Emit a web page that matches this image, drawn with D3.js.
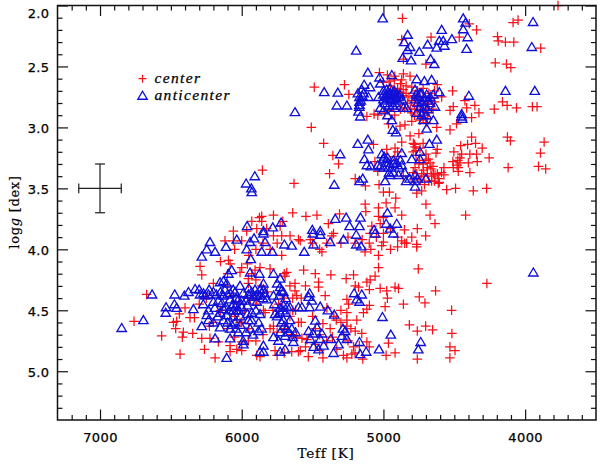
<!DOCTYPE html>
<html><head><meta charset="utf-8">
<script src="https://cdn.jsdelivr.net/npm/d3@7/dist/d3.min.js"></script>
<style>html,body{margin:0;padding:0;background:#fff}svg{display:block}</style>
</head><body><svg id="c" width="600" height="465"></svg>
<script>
const teffMajor=[7000,6000,5000,4000];
const teffMinor=[7200,7100,6900,6800,6700,6600,6500,6400,6300,6200,6100,5900,5800,5700,5600,5500,5400,5300,5200,5100,4900,4800,4700,4600,4500,4400,4300,4200,4100,3900,3800,3700,3600];
const loggMajor=[2.0,2.5,3.0,3.5,4.0,4.5,5.0];
const loggMinor=[2.1,2.2,2.3,2.4,2.6,2.7,2.8,2.9,3.1,3.2,3.3,3.4,3.6,3.7,3.8,3.9,4.1,4.2,4.3,4.4,4.6,4.7,4.8,4.9,5.1,5.2,5.3];
const legendLabels=["center","anticenter"];
const errorBar={teff:7000,logg:3.5,dTeff:150,dLogg:0.2};

const centerStars=[
[4866,2.105],[3768,2.0],[4085,2.14],[4050,2.12],[4394,2.15],[4343,2.2],[4664,2.26],[4465,2.26],[4871,2.28],[4195,2.255],[4190,2.29],[4139,2.30],[4080,2.30],[3890,2.35],
[4211,2.47],[4132,2.48],[4101,2.51],[4859,2.44],[4700,2.48],[5028,2.55],[4972,2.57],[4859,2.56],[4812,2.58],[4923,2.61],[4871,2.61],
[5488,2.67],[5275,2.65],[5244,2.73],[4512,2.70],[4620,2.65],[4589,2.75],[4425,2.78],[4355,2.82],[4326,2.88],[4413,2.84],[4507,2.83],[4530,2.86],[4378,2.92],[4218,2.85],[4160,2.79],[4127,2.82],[4061,2.84],[3949,2.83],[3916,2.83],
[4484,2.97],[4530,3.02],[4624,3.0],[5509,3.0],[5117,2.91],[5066,2.89],[4965,2.97],[4883,2.99],[4848,2.98],[4800,2.95],[4742,2.94],
[4950,2.66],[4920,2.70],[4900,2.68],[4880,2.71],[4860,2.69],[4860,2.74],[4840,2.72],[4820,2.75],[4800,2.78],[4780,2.74],[4760,2.77],[4740,2.80],[4720,2.75],[4700,2.78],[4680,2.81],[4660,2.76],[4640,2.79],[4780,2.82],[4760,2.85],[4740,2.87],[4700,2.85],[4680,2.88],[4830,2.80],[4850,2.84],[4800,2.88],[4960,2.86],[4920,2.90],[4880,2.85],[4990,2.88],[5040,2.90],[4720,2.92],[4650,2.85],
[4812,3.07],[4789,3.13],[4777,3.16],[4871,3.12],[5070,3.14],[5422,3.13],[5357,3.23],[5317,3.30],[5380,3.38],[5199,3.42],[5127,3.48],[5031,3.47],[5000,3.53],[4958,3.53],[4913,3.58],[4700,3.63],[4765,3.54],[4730,3.52],[4554,3.51],[4491,3.50],[4366,3.52],[4272,3.50],[4613,3.46],[4660,3.44],
[4378,3.08],[4406,3.14],[4350,3.13],[4455,3.15],[4303,3.17],[4503,3.2],[4448,3.22],[4390,3.22],[4343,3.22],[4254,3.25],[4460,3.25],[4401,3.29],[4338,3.28],[4460,3.29],[4507,3.33],[4472,3.33],[4472,3.36],[4390,3.37],[4573,3.33],[4573,3.39],[4636,3.39],[4606,3.45],[4125,3.08],[4104,3.11],[3866,3.12],[3892,3.21],[3906,3.32],[3855,3.34],[4120,3.33],[4629,3.21],[4683,3.26],[4671,3.29],[4777,3.33],[4718,3.35],[4765,3.38],[4714,3.40],[4789,3.43],[4648,3.38],[4977,3.18],[4918,3.17],[4742,3.17],
[4780,3.14],[4770,3.19],[4700,3.22],[4720,3.3],[4690,3.33],[4750,3.30],[4790,3.37],[4690,3.38],[4660,3.40],[4620,3.38],[4740,3.43],[4710,3.47],[4680,3.44],[4900,3.20],[4920,3.24],[4860,3.4],[5060,3.28],[5040,3.36],
[5129,3.63],[5124,3.69],[5035,3.66],[5035,3.73],[4981,3.62],[4918,3.66],[4871,3.72],[4671,3.72],[4420,3.72],[4636,3.79],[5547,3.73],[5469,3.72],[5310,3.71],[5389,3.79],[4761,3.83],[4852,3.84],[5082,3.81],[5023,3.79],[5000,3.74],
[5352,3.87],[5364,3.89],[5094,3.87],[4702,3.89],[4836,3.95],[4765,3.96],[4765,3.98],[4871,3.93],[5000,3.94],[5012,3.97],[5035,4.05],[5089,4.0],[5587,3.93],[5516,3.92],[5434,4.02],[5563,4.17],[5481,4.2],[5371,4.21],[5263,4.24],[5211,4.21],[5059,4.22],[5035,4.15],[4754,4.16],[5458,4.27],[5458,4.31],[5117,4.27],[5094,4.25],[5199,4.30],[5176,4.31],[5023,4.32],[4977,4.34],[4918,4.31],[4894,4.32],[4632,4.34],[4270,4.28],
[4747,4.39],[4707,4.44],[4859,4.45],[4988,4.47],[4972,4.40],[5099,4.33],[5099,4.46],[5117,4.49],[5141,4.52],[4519,4.50],[5258,4.41],[5246,4.45],[5258,4.52],[5188,4.58],[5333,4.58],[5258,4.58],[5258,4.63],[5199,4.67],[5153,4.69],[5376,4.65],[5427,4.61],[4817,4.62],[4761,4.67],[4702,4.63],[4653,4.66],[4517,4.69],[4965,4.77],[5117,4.76],[5211,4.80],[4531,4.80],[4495,4.83],[4531,4.89],[4761,4.90],[4918,4.85],[4981,4.87],[5146,4.90],[5258,4.89],[5223,4.86],[5282,4.87],[5427,4.89],[5587,4.83],[5329,4.82],[5575,4.73],[5540,4.74],[5399,4.48],[5411,4.38],
[6671,4.37],[6760,4.59],[6565,4.71],[6435,4.86],[6482,4.60],[6459,4.59],[6466,4.65],[6440,4.53],[6412,4.68],[6419,4.72],[6346,4.69],[6400,4.48],[6365,4.56],[6334,4.56],[6294,4.14],[6282,4.21],[6282,4.73],[6263,4.82],[6228,4.63],[6224,4.73],[6188,4.89],[6165,4.76],[6082,4.79],[6082,4.84],[6035,4.82],[6000,4.76],[5953,4.75],[5894,4.87],[5871,4.88],[6012,4.19],[6094,4.09],[6082,4.12],[5953,4.24],[5953,4.28],[5906,4.17],[5871,4.15],[5682,4.19],[5694,4.22],[5624,4.28],[5624,4.34],[5612,4.38],[5800,4.16],[5718,4.05],[6118,3.93],[6059,3.93],[6000,3.93],[5776,3.89],[5718,3.89],[5659,3.89],[5600,3.92],[6200,4.28],[5847,4.50],[5835,4.52],[5776,4.63],[5612,4.72],[5765,4.83],[5647,4.84],[5600,4.84],[6012,4.6],[5894,4.41],
[5854,3.35],[5631,3.46],[5640,3.70],[5776,3.72],[5859,3.73],[5875,3.74],[5859,3.77],[5929,3.77],[6059,3.85],[5894,3.83],[5824,3.83],[5729,3.81],[5710,3.77],[5965,3.85],
[6100,4.3],[6060,4.38],[6020,4.45],[5980,4.5],[5940,4.4],[5900,4.45],[5860,4.3],[5820,4.35],[5780,4.5],[5740,4.45],[5700,4.4],[5660,4.55],[5620,4.5],[5600,4.6],[5580,4.4],[5550,4.3],[5500,4.55],[5480,4.65],[5450,4.7],[5400,4.75],[5350,4.55],[5300,4.5],[5280,4.7],[5230,4.65],[5200,4.85],[5650,4.7],[5700,4.65],[5750,4.68],[5800,4.65],[5850,4.7],[5900,4.75],[5950,4.65],[6000,4.6],[6050,4.55],[6100,4.65],[6150,4.5],[6200,4.6],[6250,4.4],[6300,4.45],[6150,4.1],[6100,4.2],[6000,4.15],[5950,4.05],[5900,4.0],[5850,3.95],[5800,4.0],[5750,3.95],[6050,4.0],[5500,3.95],[5450,4.0],[5400,3.95],[5300,3.95],[5250,3.9],[5200,3.95],[5150,3.92],[5100,3.95],[5050,3.9],[5000,3.87],[4950,3.83],[4900,3.9],[4850,3.95],[4800,3.9],[4900,3.98],[5130,4.02],[4950,4.0],
[4640,2.70],[4680,2.72],[4720,2.68],[4760,2.70],[4800,2.67],[4840,2.66],[4880,2.64],[4920,2.58],[4960,2.62],[5000,2.63],[4780,2.90],[4810,2.85],[4690,2.93],[4700,2.96],[4750,3.05],[4790,3.20],[4770,3.23],[4745,3.27],[4700,3.27],[4730,3.38],[4665,3.34],[4640,3.44],[4610,3.42],[4590,3.37],[4650,3.32],[4720,3.13],[4620,3.18],[4510,3.28],[4475,3.27],[4480,3.31],
[5900,4.25],[5930,4.20],[5960,4.12],[5700,4.2],[5660,4.3],[5640,4.4],[5640,4.5],[5580,4.6],[5550,4.8],[5530,4.88],[5480,4.78],[5450,4.83],[5360,4.72],[5300,4.6],[5250,4.75],[5100,4.8],[5170,4.79],[5700,4.85],[5750,4.87],[6000,4.83],[6050,4.72]
];

const anticenterStars=[
[5005,2.105],[4437,2.105],[4420,2.14],[3944,2.135],[4437,2.195],[4589,2.20],[4829,2.24],[4406,2.26],[4517,2.275],[4606,2.29],[4578,2.29],[4854,2.30],[4688,2.32],[4570,2.33],[4624,2.345],[4812,2.34],[4831,2.365],[3953,2.34],[5192,2.37],[4413,2.355],[4747,2.38],[4667,2.44],[4864,2.43],[4805,2.45],[4641,2.48],
[5110,2.55],[5028,2.59],[4941,2.57],[4765,2.605],[4711,2.62],[4660,2.61],[5136,2.65],[5023,2.64],[5094,2.67],[5418,2.71],[5322,2.715],[5153,2.69],[4139,2.70],[3932,2.70],[4606,2.71],[4397,2.74],[5329,2.82],[5258,2.82],[5169,2.75],[5169,2.79],[5169,2.815],[5106,2.75],[5176,2.87],[5164,2.91],
[5035,2.75],[5000,2.73],[4977,2.69],[4953,2.68],[4930,2.72],[4965,2.76],[4941,2.77],[4906,2.75],[4883,2.73],[5000,2.77],[4918,2.80],[5023,2.84],[4972,2.90],[5000,2.86],[4941,2.94],[4960,2.72],[4940,2.74],[4920,2.76],[4985,2.74],[4950,2.77],[4900,2.78],[4859,2.84],[4836,2.84],
[4777,2.69],[4742,2.72],[4695,2.73],[4648,2.73],[4777,2.77],[4730,2.79],[4671,2.80],[4636,2.83],[4765,2.88],[4718,2.87],[4695,2.90],[4718,2.94],[4648,2.94],[4695,3.01],
[5000,2.70],[4975,2.73],[4950,2.72],[4925,2.70],[4905,2.72],[4890,2.75],[4870,2.77],[4990,2.80],[4960,2.82],[4935,2.82],[4980,2.78],[4920,2.84],[5180,2.72],[5160,2.78],[5150,2.74],[5170,2.83],[5140,2.72],[4770,2.73],[4750,2.75],[4730,2.72],[4710,2.76],[4690,2.78],[4670,2.75],[4740,2.83],[4710,2.83],[4690,2.85],[4760,2.80],[4730,2.90],
[4934,3.02],[4911,3.04],[4448,2.89],[4444,2.93],[4448,2.91],[4624,3.10],[4676,3.135],[5110,3.10],[5181,3.135],[5106,3.18],[5305,3.22],[5012,3.22],[4871,3.21],[5134,3.26],[5117,3.31],[5089,3.32],[5023,3.32],[4995,3.24],[4965,3.29],[4930,3.27],[4906,3.29],[4871,3.31],[4800,3.26],[4742,3.2],[4742,3.26],[4965,3.33],[4953,3.39],[4894,3.39],[4988,3.44],[5347,3.47],[5146,3.42],[5169,3.44],[4840,3.44],[4777,3.39],[4777,3.44],[4777,3.485],[4700,3.42],[5000,3.26],[5000,3.33],
[4930,3.30],[4890,3.33],[5040,3.31],[4960,3.37],[4930,3.37],[4880,3.27],[4815,3.42],[4760,3.42],[4970,3.25],[4850,3.37],
[4972,3.70],[5340,3.75],[5263,3.74],[5162,3.74],[5239,3.81],[5169,3.81],[4906,3.79],[4981,3.79],[5502,3.84],[5446,3.85],[5066,3.84],[4953,3.83],
[5624,2.875],[5908,3.40],[5969,3.46],[5932,3.50],[5929,3.53],[5962,3.81],[5847,3.85],[5781,3.82],[5722,3.78],
[6847,4.645],[6694,4.58],[6633,4.37],[6534,4.475],[6536,4.52],[6473,4.37],[6475,4.45],[6459,4.48],[6405,4.38],[6376,4.35],[6329,4.325],[6341,4.49],[6282,4.06],[6247,4.0],[6224,3.94],[6188,4.02],[6111,3.98],[6035,3.92],[5965,4.0],[5941,3.94],[5913,3.91],[5936,4.08],[5847,3.87],[5835,3.94],[5859,4.02],[5784,4.02],[5699,3.96],[5647,3.97],[6071,4.17],[6094,4.20],[5941,4.19],[5875,4.20],[5776,4.20],[5729,4.24],
[6294,4.37],[6259,4.38],[6235,4.37],[6200,4.35],[6153,4.27],[6129,4.26],[6106,4.28],[6118,4.33],[6271,4.45],[6235,4.50],[6200,4.43],[6165,4.42],[6129,4.49],[6082,4.41],[6059,4.45],[6024,4.41],[6012,4.30],[6059,4.50],[6106,4.54],[6153,4.52],[6247,4.54],[6282,4.63],[6235,4.58],[6200,4.60],[6153,4.64],[6082,4.65],[6047,4.60],[6024,4.68],[6082,4.73],[6188,4.73],[5988,4.78],[6106,4.89],[5847,4.79],[5847,4.84],[5871,4.84],[5729,4.84],[5694,4.82],[5635,4.76],[5776,4.72],[5741,4.75],[5882,4.67],[5953,4.58],[5941,4.65],[5929,4.52],[5871,4.53],[5953,4.37],[5906,4.33],[5847,4.28],[5918,4.39],[5871,4.38],[5894,4.43],[5824,4.41],[5776,4.38],[5729,4.31],[5706,4.35],[5765,4.53],[5729,4.52],[5706,4.46],[5659,4.475],[5600,4.475],[5706,4.58],[5682,4.65],[5647,4.65],[5729,4.68],[5694,4.71],[5847,4.33],[6047,4.35],[6000,4.475],[6035,4.50],
[6300,4.33],[6270,4.36],[6230,4.33],[6180,4.37],[6150,4.35],[6130,4.38],[6100,4.37],[6080,4.36],[6060,4.33],[6040,4.40],[6000,4.42],[5990,4.36],[5970,4.42],[5960,4.46],[5950,4.32],[5930,4.35],[5900,4.38],[5890,4.37],[5870,4.33],[5850,4.40],[5840,4.36],[6140,4.44],[6110,4.47],[6090,4.50],[6070,4.47],[6060,4.55],[6040,4.46],[6020,4.50],[6010,4.55],[6190,4.48],[6170,4.55],[6130,4.58],[6100,4.60],[6070,4.62],[6040,4.65],[6010,4.62],[5960,4.53],[5930,4.58],[5900,4.50],[5880,4.60],[5860,4.65],[5770,4.45],[5750,4.55],[5730,4.48],[5710,4.50],[5690,4.52],[5680,4.47],[5720,4.60],[5700,4.63],[5670,4.68],[5660,4.58],[5640,4.72],[5620,4.68],[5750,4.28],[5720,4.34],[5735,4.38],[5690,4.40],[5990,4.75],[5970,4.68],[5920,4.70],
[5498,3.87],[5446,3.88],[5282,3.92],[5192,3.88],[5192,3.96],[5157,3.975],[5059,3.87],[4930,3.87],[5493,3.96],[5376,3.94],[5559,4.02],
[3942,4.19],[5521,4.36],[5528,4.39],[5505,4.42],[5575,4.475],[5521,4.475],[5446,4.47],[5392,4.50],[5347,4.535],[5207,4.36],[5153,4.37],[5188,4.41],[5169,4.43],[5007,4.555],[5481,4.585],[5469,4.64],[5528,4.67],[5498,4.69],[5434,4.69],[5446,4.735],[5371,4.735],[5516,4.735],[5286,4.65],[5270,4.67],[5293,4.71],[5258,4.735],[5317,4.78],[4948,4.70],[4737,4.76],[4754,4.82],[5031,4.82],[5169,4.76],[5164,4.86],[5122,4.84],[5352,4.85],[5493,4.80],[5458,4.82],[5422,4.79]
];

const W=600,H=465,L=57.5,R=596,T=5.5,B=420;
const x=d3.scaleLinear().domain([7300,3500]).range([L,R]);
const y=d3.scaleLinear().domain([2.0,5.4]).range([T,B]);
const svg=d3.select("#c");
const MAJ=10.5,MIN=5;
const fmtY=d3.format(".1f");
function draw(axis,tx,vals,len,labels){
  const g=svg.append("g").attr("transform",tx)
    .call(axis.tickValues(vals).tickSizeOuter(0).tickSize(-len).tickPadding(8).tickFormat(labels?labels:""));
  g.select(".domain").remove();
  g.selectAll("line").attr("stroke","#111").attr("stroke-width",1.2);
  return g;
}
const tb=`translate(0,${B})`,tt=`translate(0,${T})`,tl=`translate(${L},0)`,tr=`translate(${R},0)`;
draw(d3.axisBottom(x),tb,teffMinor,MIN);draw(d3.axisTop(x),tt,teffMinor,-MIN).selectAll("line").attr("y2",MIN);
const bl=draw(d3.axisBottom(x),tb,teffMajor,MAJ,d=>String(d));
draw(d3.axisTop(x),tt,teffMajor,-MAJ).selectAll("line").attr("y2",MAJ);
draw(d3.axisLeft(y),tl,loggMinor,MIN);draw(d3.axisRight(y),tr,loggMinor,MIN);
const ll=draw(d3.axisLeft(y),tl,loggMajor,MAJ,d=>fmtY(d));
draw(d3.axisRight(y),tr,loggMajor,MAJ);
[bl,ll].forEach(g=>g.selectAll("text").attr("font-family","DejaVu Sans").attr("font-size",13).attr("letter-spacing",0.4).attr("fill","#000").attr("stroke","#000").attr("stroke-width",0.25));
bl.selectAll("text").attr("dy","1.05em");
ll.selectAll("text").attr("dy",d=>d===2.0?"0.95em":"0.4em");

const red="#f8101a",blue="#1010d8";
function plusPath(s){return `M${-s},0H${s}M0,${-s}V${s}`}
function triPath(s){return `M0,${-s*0.95}L${s},${s*0.75}L${-s},${s*0.75}Z`}
svg.append("g").selectAll("path").data(centerStars).join("path")
  .attr("transform",d=>`translate(${x(d[0])},${y(d[1])})`).attr("d",plusPath(4.8))
  .attr("fill","none").attr("stroke",red).attr("stroke-width",1.25);
svg.append("g").selectAll("path").data(anticenterStars).join("path")
  .attr("transform",d=>`translate(${x(d[0])},${y(d[1])})`).attr("d",triPath(4.7))
  .attr("fill","none").attr("stroke",blue).attr("stroke-width",1.35);

svg.append("rect").attr("x",L).attr("y",T).attr("width",R-L).attr("height",B-T)
  .attr("fill","none").attr("stroke","#111").attr("stroke-width",1.5);

// error bar
const eb=svg.append("g").attr("stroke","#222").attr("stroke-width",1.25);
const e=errorBar,cap=0.04,capT=35;
eb.append("line").attr("x1",x(e.teff-e.dTeff)).attr("x2",x(e.teff+e.dTeff)).attr("y1",y(e.logg)).attr("y2",y(e.logg));
eb.append("line").attr("x1",x(e.teff)).attr("x2",x(e.teff)).attr("y1",y(e.logg-e.dLogg)).attr("y2",y(e.logg+e.dLogg));
[e.teff-e.dTeff,e.teff+e.dTeff].forEach(t=>eb.append("line").attr("x1",x(t)).attr("x2",x(t)).attr("y1",y(e.logg-cap)).attr("y2",y(e.logg+cap)));
[e.logg-e.dLogg,e.logg+e.dLogg].forEach(g=>eb.append("line").attr("x1",x(e.teff-capT)).attr("x2",x(e.teff+capT)).attr("y1",y(g)).attr("y2",y(g)));

// legend
const legT=6700,legG=[2.6,2.74];
const leg=svg.append("g");
leg.append("path").attr("transform",`translate(${x(legT)},${y(legG[0])})`).attr("d",plusPath(4)).attr("fill","none").attr("stroke",red).attr("stroke-width",1.2);
leg.append("path").attr("transform",`translate(${x(legT)},${y(legG[1])})`).attr("d",triPath(4.7)).attr("fill","none").attr("stroke",blue).attr("stroke-width",1.35);
legendLabels.forEach((t,i)=>leg.append("text").attr("x",x(legT)+12).attr("y",y(legG[i])+4).text(t)
  .attr("font-family","Liberation Serif").attr("font-style","italic").attr("font-size",15.5).attr("letter-spacing",1.35)
  .attr("fill","#000").attr("stroke","#000").attr("stroke-width",0.25));

// axis titles
svg.append("text").attr("x",326).attr("y",458).attr("text-anchor","middle").text("Teff [K]")
  .attr("font-family","DejaVu Serif").attr("font-size",13.5).attr("letter-spacing",0.8).attr("fill","#000").attr("stroke","#000").attr("stroke-width",0.2);
const yt=svg.append("text").attr("transform","translate(19,212) rotate(-90)").attr("text-anchor","middle")
  .attr("font-family","DejaVu Serif").attr("font-size",13).attr("letter-spacing",0.7).attr("fill","#000").attr("stroke","#000").attr("stroke-width",0.2);
yt.append("tspan").text("log");
yt.append("tspan").text("g").attr("font-style","italic");
yt.append("tspan").text(" [dex]");
</script></body></html>
